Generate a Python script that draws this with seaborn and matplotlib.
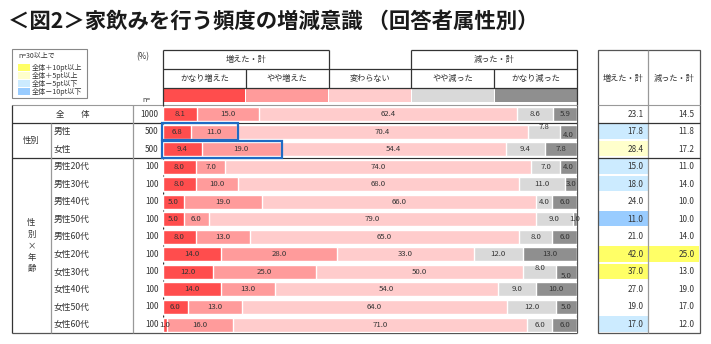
import numpy as np
import pandas as pd
import matplotlib
matplotlib.use("Agg")
import matplotlib.pyplot as plt
import seaborn as sns
from matplotlib.patches import Rectangle

# ---------------- data ----------------
title = "＜図2＞家飲みを行う頻度の増減意識 （回答者属性別）"
row_labels = ["全体", "男性", "女性",
              "男性20代", "男性30代", "男性40代", "男性50代", "男性60代",
              "女性20代", "女性30代", "女性40代", "女性50代", "女性60代"]
n_values = [1000, 500, 500, 100, 100, 100, 100, 100, 100, 100, 100, 100, 100]
categories = ["かなり増えた", "やや増えた", "変わらない", "やや減った", "かなり減った"]
very_inc = [8.1, 6.8, 9.4, 8.0, 8.0, 5.0, 5.0, 8.0, 14.0, 12.0, 14.0, 6.0, 1.0]
some_inc = [15.0, 11.0, 19.0, 7.0, 10.0, 19.0, 6.0, 13.0, 28.0, 25.0, 13.0, 13.0, 16.0]
no_change = [62.4, 70.4, 54.4, 74.0, 68.0, 66.0, 79.0, 65.0, 33.0, 50.0, 54.0, 64.0, 71.0]
some_dec = [8.6, 7.8, 9.4, 7.0, 11.0, 4.0, 9.0, 8.0, 12.0, 8.0, 9.0, 12.0, 6.0]
very_dec = [5.9, 4.0, 7.8, 4.0, 3.0, 6.0, 1.0, 6.0, 13.0, 5.0, 10.0, 5.0, 6.0]
inc_total = [23.1, 17.8, 28.4, 15.0, 18.0, 24.0, 11.0, 21.0, 42.0, 37.0, 27.0, 19.0, 17.0]
dec_total = [14.5, 11.8, 17.2, 11.0, 14.0, 10.0, 10.0, 14.0, 25.0, 13.0, 19.0, 17.0, 12.0]
legend_items = ["全体＋10pt以上", "全体＋5pt以上", "全体－5pt以下", "全体－10pt以下"]

# ---------------- style ----------------
sns.set_style("white")
plt.rcParams["font.family"] = ["Noto Sans CJK JP", "DejaVu Sans"]
seg_colors = ["#FF4D4D", "#FF9B9B", "#FFCCCC", "#D9D9D9", "#8F8F8F"]
hl_colors = ["#FFFF66", "#FFFFCC", "#CCEBFF", "#99CCFF"]
TXT = "#333333"
DARK = "#333333"
GRAY = "#999999"

W, H = 711, 344
fig = plt.figure(figsize=(W / 100, H / 100), dpi=100)
fig.patch.set_facecolor("white")

ov = fig.add_axes([0, 0, 1, 1], zorder=0)
ov.set_xlim(0, W)
ov.set_ylim(H, 0)
ov.axis("off")

# geometry (pixels)
BX0, BX1 = 163.0, 577.0
TOP, BOT = 105.3, 333.3
nrow = len(row_labels)
pitch = (BOT - TOP) / nrow


def yc(i):
    return TOP + (i + 0.5) * pitch


def ybound(i):
    return TOP + i * pitch


def hl(y, x0, x1, c=DARK, lw=0.9):
    ov.plot([x0, x1], [y, y], color=c, lw=lw, solid_capstyle="butt")


def vl(x, y0, y1, c=DARK, lw=0.9):
    ov.plot([x, x], [y0, y1], color=c, lw=lw, solid_capstyle="butt")


# ---------------- bars (seaborn) ----------------
ax = fig.add_axes([BX0 / W, (H - BOT) / H, (BX1 - BX0) / W, (BOT - TOP) / H], zorder=2)
ax.patch.set_alpha(0)
segs = np.array([very_inc, some_inc, no_change, some_dec, very_dec])
cums = np.cumsum(segs, axis=0)
df = pd.DataFrame({"label": row_labels})
for k in range(5):
    df[f"c{k}"] = cums[k]
ax.axvline(0, color=DARK, lw=1.0, zorder=0)
for k in range(4, -1, -1):
    sns.barplot(data=df, x=f"c{k}", y="label", order=row_labels, orient="h",
                color=seg_colors[k], saturation=1, width=0.8, errorbar=None,
                ax=ax, zorder=1)
ax.set_xlim(0, 100)
ax.set_ylim(nrow - 0.5, -0.5)
ax.axis("off")

nudges = {(1, 3): -0.27, (1, 4): 0.2, (9, 3): -0.25, (9, 4): 0.22}
for i in range(nrow):
    for k in range(5):
        v = segs[k, i]
        xm = cums[k, i] - v / 2
        ax.text(xm, i + nudges.get((i, k), 0), f"{v:.1f}", ha="center", va="center",
                fontsize=5.6, color=TXT, zorder=5)

# highlight boxes for 男性 / 女性 increase totals
for i in (1, 2):
    ax.add_patch(Rectangle((-0.2, i - 0.48), inc_total[i] + 0.6, 0.96, fill=False,
                           edgecolor="#1F6BC4", lw=1.6, zorder=6, clip_on=False))

# ---------------- title ----------------
ov.text(8, 21, title, fontsize=15.4, fontweight="bold", color="#1a1a1a",
        ha="left", va="center")

# ---------------- legend box ----------------
ov.add_patch(Rectangle((12, 49), 75, 48.7, fill=False, edgecolor="#888888", lw=0.8))
ov.text(18, 55.5, "n=30以上で", fontsize=5.0, color=TXT, ha="left", va="center")
for j, (lab, c) in enumerate(zip(legend_items, hl_colors)):
    y = 67.5 + j * 8.1
    ov.add_patch(Rectangle((18, y - 3.6), 12, 7.2, facecolor=c, edgecolor="none"))
    ov.text(32, y, lab, fontsize=5.1, color=TXT, ha="left", va="center")

ov.text(143, 57, "(%)", fontsize=5.8, color=TXT, ha="center", va="center")
ov.text(146, 100.5, "n=", fontsize=5.0, color=TXT, ha="center", va="center")

# ---------------- header ----------------
colw = (BX1 - BX0) / 5
cx = [BX0 + colw * (k + 0.5) for k in range(5)]
hl(50, BX0, BX0 + 2 * colw)
hl(50, BX0 + 3 * colw, BX1)
hl(69, BX0, BX1)
hl(88.3, BX0, BX1)
vl(BX0, 50, TOP)
vl(BX1, 50, TOP)
vl(BX0 + 2 * colw, 50, 88.3)
vl(BX0 + 3 * colw, 50, 88.3)
vl(BX0 + colw, 69, 88.3)
vl(BX0 + 4 * colw, 69, 88.3)
ov.text(BX0 + colw, 59.5, "増えた・計", fontsize=5.9, color=TXT, ha="center", va="center")
ov.text(BX0 + 4 * colw, 59.5, "減った・計", fontsize=5.9, color=TXT, ha="center", va="center")
for k in range(5):
    ov.text(cx[k], 78.7, categories[k], fontsize=5.9, color=TXT, ha="center", va="center")
    ov.add_patch(Rectangle((BX0 + k * colw + 0.5, 88.8), colw - 1, 13.0,
                           facecolor=seg_colors[k], edgecolor="none"))

# ---------------- left table ----------------
hl(TOP, 12, BX1, c=GRAY, lw=0.8)
hl(ybound(1), 12, BX1)
hl(ybound(3), 12, BX1)
hl(BOT, 12, BX1, c="#555555")
vl(12, TOP, BOT)
vl(51, ybound(1), BOT, c=GRAY)
vl(133, TOP, BOT, c=GRAY)
vl(BX1, TOP, BOT, c="#555555")

ov.text(72.5, yc(0), "全　　体", fontsize=6, color=TXT, ha="center", va="center")
ov.text(31.5, ybound(2), "性別", fontsize=6, color=TXT, ha="center", va="center")
ov.text(31.5, (ybound(3) + BOT) / 2, "性\n別\n×\n年\n齢", fontsize=6, color=TXT,
        ha="center", va="center", linespacing=1.35)
for i in range(nrow):
    if i > 0:
        ov.text(53.5, yc(i), row_labels[i], fontsize=6.3, color=TXT, ha="left", va="center")
    ov.text(158.5, yc(i), f"{n_values[i]}", fontsize=5.9, color=TXT, ha="right", va="center")

# ---------------- right table ----------------
RX0, RXM, RX1 = 598.0, 648.0, 699.5


def hl_code(v, base):
    d = v - base
    if d >= 10:
        return hl_colors[0]
    if d >= 5:
        return hl_colors[1]
    if d <= -10:
        return hl_colors[3]
    if d <= -5:
        return hl_colors[2]
    return None


for i in range(nrow):
    for vals, x0, x1 in ((inc_total, RX0, RXM), (dec_total, RXM, RX1)):
        c = hl_code(vals[i], vals[0]) if i > 0 else None
        if c:
            ov.add_patch(Rectangle((x0 + 0.5, ybound(i) + 0.6), x1 - x0 - 1, pitch - 2.2,
                                   facecolor=c, edgecolor="none"))
    ov.text(RXM - 4.5, yc(i), f"{inc_total[i]:.1f}", fontsize=5.9, color=TXT,
            ha="right", va="center")
    ov.text(RX1 - 5, yc(i), f"{dec_total[i]:.1f}", fontsize=5.9, color=TXT,
            ha="right", va="center")

ov.add_patch(Rectangle((RX0, 50), RX1 - RX0, BOT - 50, fill=False, edgecolor="#555555", lw=0.9))
vl(RXM, 50, BOT, c=GRAY)
hl(TOP, RX0, RX1, c=GRAY, lw=0.8)
hl(ybound(1), RX0, RX1)
hl(ybound(3), RX0, RX1)
ov.text((RX0 + RXM) / 2, 78, "増えた・計", fontsize=5.9, color=TXT, ha="center", va="center")
ov.text((RXM + RX1) / 2, 78, "減った・計", fontsize=5.9, color=TXT, ha="center", va="center")

fig.savefig("out.png", dpi=100)
